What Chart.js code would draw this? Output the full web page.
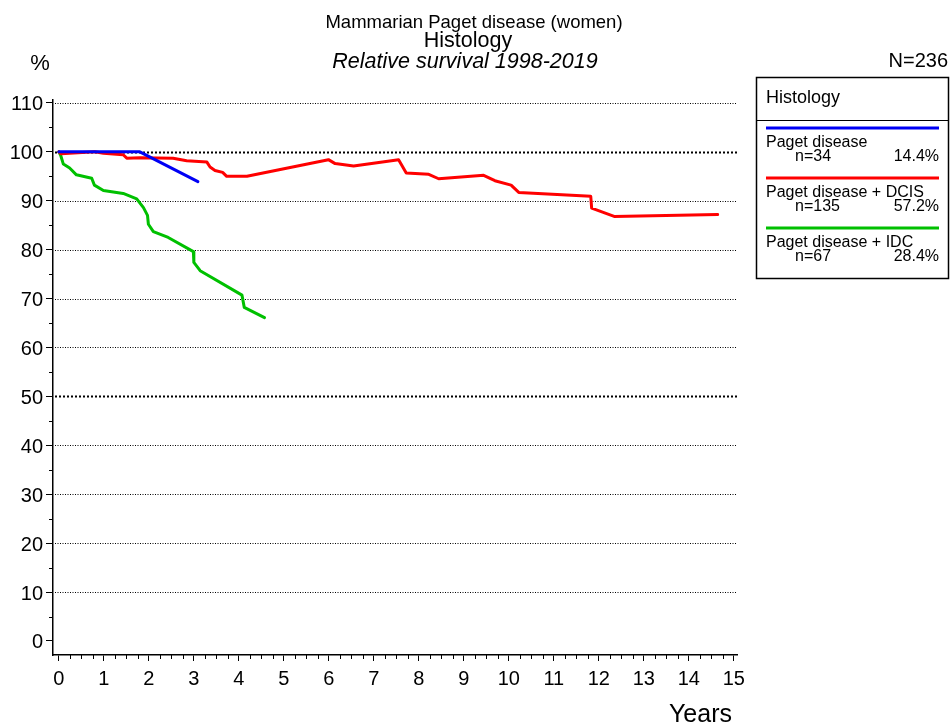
<!DOCTYPE html>
<html>
<head>
<meta charset="utf-8">
<script src="https://cdn.jsdelivr.net/npm/chart.js@4.4.1/dist/chart.umd.min.js"></script>
<style>
  html, body { margin: 0; padding: 0; background: #fff; }
  #wrap { width: 951px; height: 727px; position: relative; }
</style>
</head>
<body>
<div id="wrap"><canvas id="chart" width="951" height="727"></canvas></div>
<script>
/* DATA */
const groupNames = ["Paget disease", "Paget disease + DCIS", "Paget disease + IDC"];
const groupCounts = [34, 135, 67];
const totalN = 236;

const pagetYears = [0, 1.8, 3.09];
const pagetSurv  = [100, 100, 93.9];

const dcisYears = [0, 0.05, 0.8, 0.99, 1.43, 1.51, 1.8, 2.54, 2.84, 3.29, 3.36, 3.47, 3.64, 3.73, 4.18,
                   5.99, 6.14, 6.55, 7.55, 7.72, 8.22, 8.44, 9.44, 9.69, 10.05, 10.22, 11.82, 11.84, 12.34, 14.64];
const dcisSurv  = [100, 99.6, 100, 99.7, 99.4, 98.7, 98.8, 98.7, 98.2, 97.9, 96.9, 96.2, 95.8, 95.0, 95.0,
                   98.4, 97.6, 97.1, 98.4, 95.7, 95.4, 94.5, 95.2, 94.1, 93.2, 91.7, 90.9, 88.5, 86.8, 87.2];

const idcYears = [0, 0.04, 0.1, 0.24, 0.39, 0.73, 0.79, 0.99, 1.43, 1.73, 1.88, 1.97, 1.99, 2.1, 2.43,
                  2.99, 3.0, 3.14, 4.07, 4.12, 4.57];
const idcSurv  = [100, 99.3, 97.5, 96.7, 95.3, 94.6, 93.2, 92.1, 91.5, 90.4, 88.6, 87.0, 85.2, 83.7, 82.5,
                  79.6, 77.4, 75.7, 70.7, 68.2, 66.1];

const groupColors = ["#0000f5", "#ff0000", "#00c000"];
const yGridValues = [10, 20, 30, 40, 50, 60, 70, 80, 90, 100, 110];

const FONT = "'Liberation Sans', Arial, sans-serif";

function toPoints(xs, ys) {
  return xs.map((x, i) => ({ x: x, y: ys[i] }));
}

/* OVERLAY: grid, minor ticks, titles, legend */
const overlay = {
  id: "overlay",
  beforeDatasetsDraw(chart) {
    const ctx = chart.ctx;
    const area = chart.chartArea;
    const ys = chart.scales.y;
    ctx.save();
    ctx.strokeStyle = "#000";
    yGridValues.forEach(v => {
      const y = Math.round(ys.getPixelForValue(v)) + 0.5;
      const bold = (v === 50 || v === 100);
      ctx.lineWidth = bold ? 2 : 1;
      ctx.setLineDash(bold ? [2, 2] : [1, 1.5]);
      ctx.beginPath();
      ctx.moveTo(area.left + 2, y);
      ctx.lineTo(area.right, y);
      ctx.stroke();
    });
    ctx.restore();
  },
  afterDraw(chart) {
    const ctx = chart.ctx;
    const area = chart.chartArea;
    const xs = chart.scales.x;
    const ys = chart.scales.y;
    ctx.save();

    // minor ticks
    ctx.strokeStyle = "#000";
    ctx.lineWidth = 1;
    for (let v = 0.25; v < 15; v += 0.25) {
      if (Math.abs(v - Math.round(v)) < 0.01) continue;
      const x = Math.round(xs.getPixelForValue(v)) + 0.5;
      ctx.beginPath();
      ctx.moveTo(x, area.bottom);
      ctx.lineTo(x, area.bottom + 4);
      ctx.stroke();
    }
    for (let v = 5; v < 110; v += 10) {
      const y = Math.round(ys.getPixelForValue(v)) + 0.5;
      ctx.beginPath();
      ctx.moveTo(area.left - 4, y);
      ctx.lineTo(area.left, y);
      ctx.stroke();
    }

    // titles
    ctx.fillStyle = "#000";
    ctx.textBaseline = "alphabetic";
    ctx.textAlign = "center";
    ctx.font = "18.5px " + FONT;
    ctx.fillText("Mammarian Paget disease (women)", 474, 28);
    ctx.font = "21.5px " + FONT;
    ctx.fillText("Histology", 468, 47);
    ctx.font = "italic 21.5px " + FONT;
    ctx.fillText("Relative survival 1998-2019", 465, 68);
    ctx.textBaseline = "middle";
    ctx.font = "22px " + FONT;
    ctx.fillText("%", 40, 64);
    ctx.textAlign = "right";
    ctx.font = "20px " + FONT;
    ctx.fillText("N=" + totalN, 948, 61);
    ctx.font = "25px " + FONT;
    ctx.fillText("Years", 732, 715);

    // legend box
    ctx.lineWidth = 1.5;
    ctx.strokeRect(756.5, 77.5, 192, 201);
    ctx.lineWidth = 1;
    ctx.beginPath();
    ctx.moveTo(756.5, 120.5);
    ctx.lineTo(948.5, 120.5);
    ctx.stroke();
    ctx.textAlign = "left";
    ctx.font = "18px " + FONT;
    ctx.fillText("Histology", 766, 98);

    chart.data.datasets.forEach((ds, i) => {
      const top = 128 + i * 50;
      ctx.strokeStyle = ds.borderColor;
      ctx.lineWidth = 3;
      ctx.beginPath();
      ctx.moveTo(766, top);
      ctx.lineTo(939, top);
      ctx.stroke();
      ctx.fillStyle = "#000";
      ctx.font = "16px " + FONT;
      ctx.textAlign = "left";
      ctx.fillText(ds.label, 766, top + 15);
      ctx.fillText("n=" + groupCounts[i], 795, top + 29);
      ctx.textAlign = "right";
      ctx.fillText((groupCounts[i] / totalN * 100).toFixed(1) + "%", 939, top + 29);
    });

    ctx.restore();
  }
};

/* RENDER CHART */
const ctx = document.getElementById("chart");

new Chart(ctx, {
  type: "line",
  data: {
    datasets: [
      { label: groupNames[0], data: toPoints(pagetYears, pagetSurv), borderColor: groupColors[0] },
      { label: groupNames[1], data: toPoints(dcisYears, dcisSurv), borderColor: groupColors[1] },
      { label: groupNames[2], data: toPoints(idcYears, idcSurv), borderColor: groupColors[2] }
    ]
  },
  options: {
    responsive: false,
    animation: false,
    layout: { padding: { top: 100, right: 214, left: 0, bottom: 0 } },
    elements: {
      line: { borderWidth: 3, tension: 0, borderJoinStyle: "round", borderCapStyle: "round" },
      point: { radius: 0 }
    },
    plugins: {
      legend: { display: false },
      tooltip: { enabled: false }
    },
    scales: {
      x: {
        type: "linear",
        min: -0.13,
        max: 15.07,
        afterFit: s => { s.height = 72; },
        border: { display: true, color: "#000", width: 1.5 },
        grid: { drawOnChartArea: false, drawTicks: true, tickLength: 6, tickColor: "#000" },
        ticks: {
          stepSize: 1,
          includeBounds: false,
          color: "#000",
          padding: 6,
          maxRotation: 0,
          autoSkip: false,
          font: { family: FONT, size: 20 },
          callback: v => Math.round(v)
        }
      },
      y: {
        min: -2.87,
        max: 110.6,
        afterFit: s => { s.width = 53; },
        border: { display: true, color: "#000", width: 1.5 },
        grid: { drawOnChartArea: false, drawTicks: true, tickLength: 7, tickColor: "#000" },
        ticks: {
          stepSize: 10,
          includeBounds: false,
          color: "#000",
          padding: 3,
          labelOffset: 2,
          font: { family: FONT, size: 20 },
          callback: v => Math.round(v)
        }
      }
    }
  },
  plugins: [overlay]
});
</script>
</body>
</html>
